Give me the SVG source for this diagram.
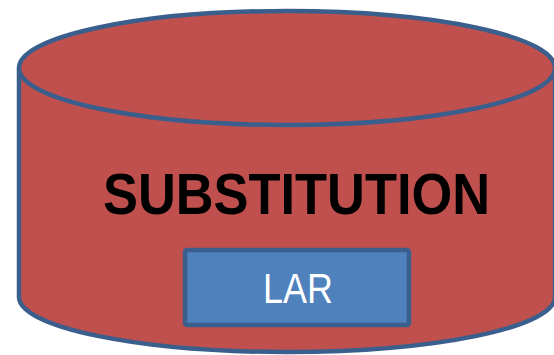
<svg xmlns="http://www.w3.org/2000/svg" width="554" height="355" viewBox="0 0 554 355">
  <style>
    .drum { fill: #C0504D; stroke: #3B5F8C; stroke-width: 4.5; }
    .box { fill: #4F81BD; stroke: #3B5F8C; stroke-width: 4.5; }
    .title { font-family: "Liberation Sans", Arial, sans-serif; font-weight: bold; font-size: 57px; fill: #000000; }
    .label { font-family: "Liberation Sans", Arial, sans-serif; font-size: 42px; fill: #FFFFFF; }
  </style>
  <rect width="554" height="355" fill="#FFFFFF"/>
  <g id="substitution">
    <!-- cylinder body -->
    <path class="drum" d="M 19 68 L 19 297 A 268 55 0 0 0 555 297 L 555 68"/>
    <!-- top cap -->
    <ellipse class="drum" cx="287" cy="68" rx="268" ry="57"/>
    <text class="title" x="296.5" y="214" text-anchor="middle" textLength="387" lengthAdjust="spacingAndGlyphs">SUBSTITUTION</text>
  </g>
  <g id="lar">
    <rect class="box" x="185" y="250" width="224" height="75" rx="2"/>
    <text class="label" x="298" y="303" text-anchor="middle" textLength="70" lengthAdjust="spacingAndGlyphs">LAR</text>
  </g>
</svg>
